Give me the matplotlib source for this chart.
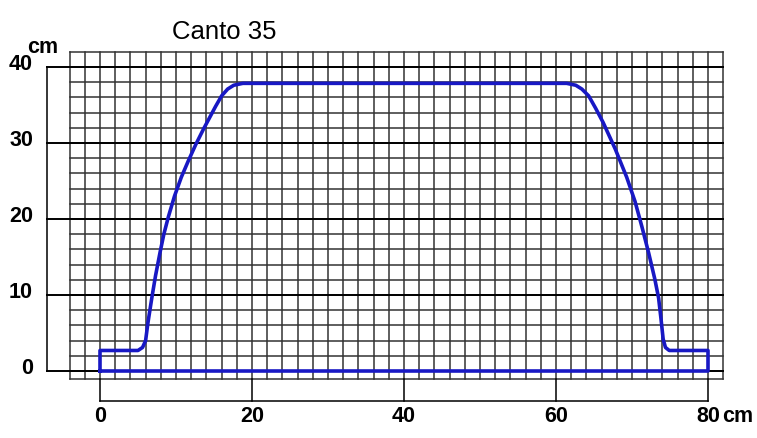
import matplotlib
matplotlib.use('Agg')
import matplotlib.pyplot as plt
import numpy as np

# profile outline of the sail (cm)
outline_x = [0, 0, 5.0, 5.6, 6.0, 6.3, 6.8, 7.3, 7.9, 8.4, 9.0, 9.8, 10.7,
             11.6, 12.6, 13.6, 15.2, 16.0, 16.8, 17.6, 18.8, 61.4, 62.6,
             63.4, 64.3, 65.2, 66.2, 67.8, 69.3, 70.4, 71.3, 72.2, 73.0,
             73.5, 73.8, 74.1, 74.4, 74.9, 80, 80, 0]
outline_y = [0, 2.7, 2.7, 3.1, 4.0, 6.3, 9.5, 12.5, 15.6, 18.0, 20.3, 23.0,
             25.5, 27.6, 29.8, 31.8, 34.8, 36.2, 37.1, 37.6, 37.85, 37.85,
             37.6, 37.1, 36.2, 34.6, 32.7, 29.2, 25.5, 22.3, 19.0, 15.5,
             12.1, 9.6, 7.0, 4.2, 3.1, 2.7, 2.7, 0, 0]

y_ticks = [0, 10, 20, 30, 40]
x_ticks = [0, 20, 40, 60, 80]
title = 'Canto 35'
unit = 'cm'

# grid extent (cm)
gx0, gx1 = -4, 82
gy0, gy1 = -1, 42

fig = plt.figure(figsize=(7.57, 4.39), dpi=100)
ax = fig.add_axes([0, 0, 1, 1])
ax.set_xlim(-100 / 7.6, 657 / 7.6)
ax.set_ylim(-67 / 7.6, 372 / 7.6)
ax.axis('off')

grid_col = '#333333'
# small grid, every 2 cm
for gx in np.arange(gx0, gx1 + 1, 2):
    ax.plot([gx, gx], [gy0, gy1], color=grid_col, lw=1.1, zorder=1)
for gy in list(np.arange(0, gy1 + 1, 2)) + [gy0]:
    ax.plot([gx0, gx1], [gy, gy], color=grid_col, lw=1.1, zorder=1)

# main horizontal lines and left bracket
left = -7
for v in y_ticks:
    ax.plot([left, gx1], [v, v], color='black', lw=1.4, zorder=2)
    ax.text(-8.8, v + 0.5, str(v), ha='right', va='center',
            fontsize=15.5, fontweight='bold', family='Liberation Sans')
ax.plot([left, left], [y_ticks[0], y_ticks[-1]], color='black', lw=1.1, zorder=2)

# bottom bracket
base = -4
ax.plot([x_ticks[0], x_ticks[-1]], [base, base], color='black', lw=1.1, zorder=2)
for v in x_ticks:
    ax.plot([v, v], [base, gy0], color='black', lw=1.1, zorder=2)
    ax.text(v, -5.9, str(v), ha='center', va='center',
            fontsize=15.5, fontweight='bold', family='Liberation Sans')

ax.text(81.8, -5.9, unit, ha='left', va='center',
        fontsize=15.5, fontweight='bold', family='Liberation Sans')
ax.text(-7.5, 42.7, unit, ha='center', va='center',
        fontsize=15.5, fontweight='bold', family='Liberation Sans')

ax.plot(outline_x, outline_y, color='#1818c4', lw=2.6,
        solid_joinstyle='round', zorder=3)

ax.text(16.4, 44.7, title, ha='center', va='center',
        fontsize=18.5, family='Liberation Sans')

plt.savefig('out.png', dpi=100)
